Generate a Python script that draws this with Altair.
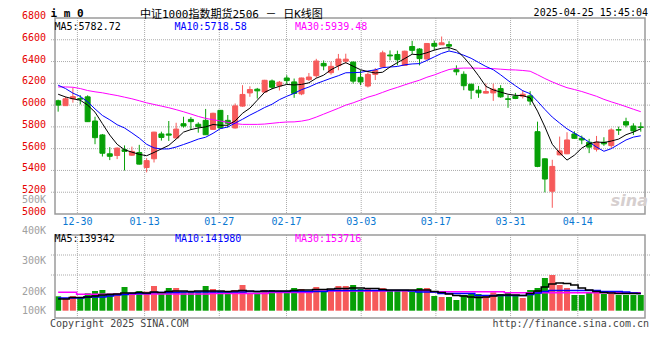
import altair as alt
import pandas as pd

# ---------------- data ----------------
DATES = ["12-25", "12-26", "12-27", "12-30", "12-31",
         "01-02", "01-03", "01-06", "01-07", "01-08", "01-09", "01-10", "01-13", "01-14", "01-15",
         "01-16", "01-17", "01-20", "01-21", "01-22", "01-23", "01-24", "01-27",
         "02-05", "02-06", "02-07", "02-10", "02-11", "02-12", "02-13", "02-14", "02-17", "02-18",
         "02-19", "02-20", "02-21", "02-24", "02-25", "02-26", "02-27", "02-28",
         "03-03", "03-04", "03-05", "03-06", "03-07", "03-10", "03-11", "03-12", "03-13", "03-14",
         "03-17", "03-18", "03-19", "03-20", "03-21", "03-24", "03-25", "03-26", "03-27", "03-28", "03-31",
         "04-01", "04-02", "04-03", "04-07", "04-08", "04-09", "04-10", "04-11", "04-14", "04-15",
         "04-16", "04-17", "04-18", "04-21", "04-22", "04-23", "04-24", "04-25"]

OPEN = [6040, 5995, 6058, 6060, 6076, 5854, 5726, 5553, 5537, 5590,
        5540, 5565, 5427, 5507, 5735, 5735, 5698, 5829, 5869, 5824,
        5860, 5777, 5952, 5860, 5790, 5991, 6112, 6146, 6120, 6222,
        6176, 6249, 6213, 6103, 6234, 6270, 6383, 6298, 6362, 6403,
        6395, 6255, 6175, 6282, 6350, 6460, 6465, 6365, 6538, 6515,
        6423, 6566, 6554, 6556, 6325, 6283, 6192, 6137, 6110, 6112,
        6152, 6058, 6082, 6082, 6085, 5756, 5507, 5209, 5543, 5553,
        5735, 5696, 5659, 5595, 5659, 5628, 5775, 5848, 5808, 5800]
HIGH = [6050, 6078, 6160, 6091, 6090, 5893, 5735, 5614, 5612, 5630,
        5619, 5635, 5513, 5755, 5756, 5854, 5838, 5893, 5890, 5842,
        5965, 5930, 5955, 5909, 6015, 6183, 6173, 6158, 6232, 6235,
        6222, 6274, 6244, 6252, 6295, 6425, 6410, 6400, 6470, 6472,
        6400, 6320, 6300, 6340, 6500, 6502, 6500, 6500, 6590, 6523,
        6570, 6593, 6630, 6587, 6365, 6310, 6195, 6176, 6198, 6198,
        6183, 6091, 6112, 6137, 6128, 5848, 5510, 5498, 5711, 5751,
        5760, 5720, 5690, 5717, 5705, 5787, 5802, 5884, 5833, 5842]
LOW = [5940, 5993, 6022, 6006, 5845, 5641, 5528, 5495, 5504, 5400,
       5535, 5455, 5382, 5473, 5674, 5671, 5695, 5793, 5772, 5747,
       5728, 5772, 5785, 5793, 5785, 5985, 6076, 6060, 6115, 6146,
       6134, 6195, 6067, 6091, 6222, 6250, 6320, 6280, 6320, 6380,
       6198, 6183, 6162, 6230, 6345, 6411, 6365, 6360, 6470, 6365,
       6420, 6502, 6552, 6502, 6274, 6137, 6055, 6067, 6108, 6039,
       6067, 5975, 6055, 6061, 6000, 5430, 5199, 5057, 5540, 5550,
       5690, 5641, 5559, 5574, 5626, 5605, 5726, 5796, 5726, 5756]
CLOSE = [6000, 6058, 6078, 6055, 5848, 5701, 5558, 5530, 5605, 5575,
         5575, 5458, 5490, 5752, 5703, 5724, 5780, 5808, 5848, 5802,
         5728, 5925, 5790, 5833, 5993, 6098, 6143, 6131, 6228, 6164,
         6210, 6225, 6107, 6249, 6258, 6405, 6360, 6356, 6423, 6422,
         6220, 6213, 6282, 6318, 6480, 6452, 6417, 6495, 6503, 6427,
         6566, 6541, 6572, 6541, 6306, 6178, 6137, 6112, 6125, 6146,
         6076, 6052, 6061, 6100, 6037, 5437, 5321, 5437, 5580, 5680,
         5695, 5680, 5614, 5659, 5644, 5772, 5770, 5817, 5763, 5795]

MA5 = [6100, 6075, 6058, 6045, 6000, 5935, 5830, 5725, 5640, 5590,
       5568, 5548, 5535, 5565, 5598, 5630, 5688, 5752, 5775, 5790,
       5800, 5822, 5815, 5815, 5855, 5925, 5972, 6045, 6118, 6150,
       6172, 6190, 6185, 6190, 6205, 6247, 6275, 6325, 6360, 6390,
       6357, 6325, 6308, 6295, 6302, 6350, 6390, 6428, 6467, 6462,
       6481, 6505, 6522, 6528, 6505, 6440, 6360, 6270, 6172, 6140,
       6119, 6100, 6090, 6087, 6066, 5945, 5800, 5640, 5562, 5495,
       5540, 5605, 5645, 5662, 5656, 5670, 5688, 5728, 5752, 5782.72]
MA10 = [6183, 6152, 6110, 6080, 6030, 5965, 5905, 5865, 5820, 5790,
        5745, 5697, 5640, 5607, 5597, 5598, 5615, 5638, 5662, 5688,
        5705, 5741, 5784, 5799, 5835, 5870, 5908, 5942, 5978, 6008,
        6050, 6081, 6108, 6142, 6166, 6197, 6222, 6247, 6270, 6297,
        6298, 6301, 6313, 6324, 6344, 6350, 6355, 6370, 6378, 6381,
        6410, 6443, 6475, 6497, 6482, 6458, 6430, 6392, 6355, 6325,
        6278, 6226, 6178, 6132, 6105, 6035, 5960, 5890, 5835, 5782,
        5742, 5704, 5660, 5615, 5576, 5600, 5640, 5680, 5706, 5718.58]
MA30 = [6167, 6167, 6164, 6152, 6134, 6122, 6113, 6100, 6088, 6073,
        6058, 6040, 6021, 6006, 5991, 5976, 5958, 5939, 5918, 5896,
        5878, 5866, 5854, 5842, 5830, 5823, 5823, 5823, 5826, 5833,
        5840, 5845, 5846, 5853, 5866, 5890, 5917, 5944, 5971, 6000,
        6021, 6046, 6073, 6092, 6117, 6142, 6163, 6186, 6208, 6229,
        6256, 6277, 6303, 6327, 6337, 6340, 6340, 6339, 6336, 6335,
        6330, 6325, 6323, 6318, 6311, 6279, 6244, 6213, 6185, 6160,
        6143, 6125, 6103, 6081, 6053, 6030, 6009, 5986, 5962, 5939.48]

VOLUME = [182600, 176100, 183600, 179300, 192500, 200000, 203300, 192500, 192500, 213100,
          194400, 200000, 197700, 216400, 190200, 209800, 209800, 197700, 200000, 197700,
          216400, 206600, 200000, 195700, 203300, 219700, 194400, 194400, 203300, 203300,
          200000, 200000, 209800, 206600, 200000, 213100, 200000, 206600, 216400, 216400,
          219700, 206600, 206600, 203300, 209800, 200000, 200000, 203300, 197700, 209800,
          209800, 183600, 180300, 180300, 170500, 186900, 190200, 190200, 186900, 195700,
          190200, 194400, 183600, 177000, 203300, 209800, 242600, 252500, 219700, 209800,
          186900, 186900, 194400, 196700, 190200, 190200, 186900, 186900, 186900, 186900]
VMA5 = [173800, 173800, 178700, 178700, 180300, 183600, 186900, 188500, 190200, 193400,
        193400, 195100, 193400, 196700, 195100, 198400, 200000, 200000, 198400, 200000,
        200000, 200000, 200000, 198400, 200000, 201600, 200000, 198400, 200000, 200000,
        200000, 200000, 201600, 203300, 203300, 204900, 204900, 206600, 208200, 208200,
        209800, 209800, 208200, 208200, 204900, 203300, 203300, 203300, 203300, 203300,
        203300, 198400, 195100, 190200, 185200, 183600, 180300, 178700, 180300, 183600,
        186900, 186900, 186900, 185200, 191800, 200000, 213100, 223000, 226200, 224600,
        219700, 209800, 203300, 198400, 195100, 193400, 191800, 191800, 191800, 191800]
VMA10 = [177000, 177000, 177000, 177000, 180300, 180300, 180300, 183600, 186900, 188500,
         191800, 191800, 191800, 195100, 195100, 195100, 195100, 196700, 196700, 196700,
         196700, 196700, 196700, 196700, 196700, 196700, 198400, 198400, 198400, 198400,
         198400, 198400, 198400, 198400, 198400, 198400, 198400, 201600, 201600, 201600,
         201600, 201600, 201600, 201600, 201600, 201600, 201600, 201600, 200000, 196700,
         196700, 196700, 191800, 191800, 191800, 191800, 191800, 185200, 185200, 185200,
         185200, 185200, 185200, 185200, 188500, 193400, 198400, 201600, 201600, 201600,
         201600, 201600, 201600, 201600, 198400, 198400, 198400, 196700, 193400, 191800]
VMA30 = [195700, 195700, 195700, 189200, 189200, 189200, 189200, 189200, 189200, 189200,
         189200, 190200, 190200, 190200, 190200, 190200, 190200, 190200, 190200, 190200,
         190200, 191800, 191800, 191800, 191800, 191800, 191800, 191800, 191800, 195100,
         195100, 195100, 195100, 195100, 195100, 200000, 200000, 200000, 200000, 200000,
         200000, 200000, 200000, 200000, 200000, 201000, 201000, 201000, 201000, 201000,
         201000, 197700, 197700, 197700, 197700, 197700, 197700, 197700, 197700, 197700,
         197700, 194500, 194500, 194500, 194500, 194500, 194500, 194500, 194500, 194500,
         194500, 194500, 194500, 194500, 194500, 194500, 194500, 194500, 194500, 194500]

TICK_LABELS = ["12-30", "01-13", "01-27", "02-17", "03-03", "03-17", "03-31", "04-14"]
PRICE_TICKS = [5000, 5200, 5400, 5600, 5800, 6000, 6200, 6400, 6600, 6800]
VOLUME_TICKS = [200000, 300000, 400000, 500000]
VOLUME_BASE_LABEL = "100K"
VOL_MA_LAST = [139342, 141980, 153716]
SYMBOL = "i m 0"
TITLE = "中证1000指数期货2506 － 日K线图"
STAMP = "2025-04-25 15:45:04"
COPYRIGHT = "Copyright 2025 SINA.COM"
URL = "http://finance.sina.com.cn"

# ---------------- layout / style ----------------
W, H = 600, 300
STEP, FIRST = 7.5, 3.2
MONO = "DejaVu Sans Mono"
RED, GREEN = "#f65a5a", "#07a007"
BORDER, GRID = "#9a9a9a", "#aaaaaa"
P_TOP, P_BOT = 6800, 5000
P_PX = 196.0 / (P_TOP - P_BOT)          # pixels per price unit
Y_MIN = P_TOP - H / P_PX                # value at the bottom of the view
VOL_Y100, VOL_PX = 303.5, 30.5          # pixel of 100K and pixels per 100K in the volume panel
VOL_BASE_PX = 292.7                     # pixel of the volume bars' base line


def px_to_y(px):
    return P_TOP - px / P_PX


def vol_px(v):
    return VOL_Y100 - (v - 100000) / 100000 * VOL_PX


VOL_TOP_Y, VOL_BOT_Y = px_to_y(217), px_to_y(300)


def vol_expr(field):
    return f"{P_TOP} - ({VOL_Y100} - (datum.{field} - 100000) / 100000 * {VOL_PX}) / {P_PX}"


x_scale = alt.Scale(domain=[-FIRST / STEP, (W - FIRST) / STEP], nice=False, zero=False)
y_scale = alt.Scale(domain=[Y_MIN, P_TOP], nice=False, zero=False)

n = len(DATES)
df = pd.DataFrame({
    "i": list(range(n)), "date": DATES, "open": OPEN, "high": HIGH, "low": LOW, "close": CLOSE,
    "ma5": MA5, "ma10": MA10, "ma30": MA30,
    "vol": VOLUME, "vma5": VMA5, "vma10": VMA10, "vma30": VMA30,
})
df["dir"] = ["up" if c >= o else "down" for o, c in zip(OPEN, CLOSE)]

ticks = pd.DataFrame({"label": TICK_LABELS})
ticks["u"] = [(DATES.index(t) * W / (n - 1) - FIRST) / STEP for t in TICK_LABELS]
ticks["pt"], ticks["pb"] = P_TOP, P_BOT
ticks["vt"], ticks["vb"] = VOL_TOP_Y, VOL_BOT_Y

hgrid = pd.DataFrame({"g": PRICE_TICKS[1:-1] + [px_to_y(237), px_to_y(257)]})
frames = pd.DataFrame({"x0": [-FIRST / STEP] * 2, "x1": [(W - FIRST) / STEP] * 2,
                       "yt": [P_TOP, VOL_TOP_Y], "yb": [P_BOT, VOL_BOT_Y]})
price_lbl = pd.DataFrame({"y": PRICE_TICKS, "t": [str(v) for v in PRICE_TICKS]})
vol_lbl = pd.DataFrame({
    "y": [px_to_y(vol_px(v)) for v in VOLUME_TICKS] + [px_to_y(VOL_BASE_PX)],
    "t": [f"{v // 1000}K" for v in VOLUME_TICKS] + [VOLUME_BASE_LABEL],
})

one = pd.DataFrame({"a": [0]})
color_scale = alt.Scale(domain=["up", "down"], range=[RED, GREEN])
X = alt.X("i:Q", scale=x_scale, axis=None)


def Y(field):
    return alt.Y(f"{field}:Q", scale=y_scale, axis=None)


base = alt.Chart(df).transform_calculate(
    vol_y=vol_expr("vol"), vma5_y=vol_expr("vma5"), vma10_y=vol_expr("vma10"),
    vma30_y=vol_expr("vma30"), base_y=f"{px_to_y(VOL_BASE_PX)}")

# ---------------- grids ----------------
hgrid_l = alt.Chart(hgrid).mark_rule(color=GRID, strokeDash=[1, 1]).encode(y=Y("g"))
vgrid_p = alt.Chart(ticks).mark_rule(color=GRID, strokeDash=[1, 1]).encode(
    x=alt.X("u:Q", scale=x_scale, axis=None), y=Y("pt"), y2="pb:Q")
vgrid_v = alt.Chart(ticks).mark_rule(color=GRID, strokeDash=[1, 1]).encode(
    x=alt.X("u:Q", scale=x_scale, axis=None), y=Y("vt"), y2="vb:Q")

# ---------------- candles ----------------
wick = base.mark_rule(strokeWidth=1).encode(
    x=X, y=Y("low"), y2="high:Q",
    color=alt.Color("dir:N", scale=color_scale, legend=None),
)
body = base.mark_bar(size=5, strokeWidth=1).encode(
    x=X, y=Y("open"), y2="close:Q",
    color=alt.Color("dir:N", scale=color_scale, legend=None),
    stroke=alt.Stroke("dir:N", scale=color_scale, legend=None),
)


def line(field, color, sw=1.0, interp="linear"):
    return base.mark_line(color=color, strokeWidth=sw, interpolate=interp).encode(x=X, y=Y(field))


# ---------------- volume ----------------
vbars = base.mark_bar(size=6).encode(
    x=X, y=Y("vol_y"), y2="base_y:Q",
    color=alt.Color("dir:N", scale=color_scale, legend=None),
)

frame_l = alt.Chart(frames).mark_rect(fillOpacity=0, stroke=BORDER, strokeWidth=1.5).encode(
    x=alt.X("x0:Q", scale=x_scale, axis=None), x2="x1:Q", y=Y("yt"), y2="yb:Q")

# ---------------- axis labels ----------------
price_labels = alt.Chart(price_lbl).mark_text(
    align="right", baseline="middle", dy=-2, font=MONO, fontSize=10, color="#e60000").encode(
    x=alt.value(-4), y=Y("y"), text="t:N")
vol_labels = alt.Chart(vol_lbl).mark_text(
    align="right", baseline="middle", dy=0.5, font=MONO, fontSize=10, color="#a0a0a0").encode(
    x=alt.value(-4), y=Y("y"), text="t:N")
date_text = alt.Chart(ticks).mark_text(font=MONO, fontSize=10, color="#0a78d2",
                                       align="center", baseline="alphabetic").encode(
    x=alt.X("u:Q", scale=x_scale, axis=None), y=alt.value(206.5), text="label:N")


def ann(text, x, y, color="#000000", align="left", size=10, font=MONO, weight="normal",
        style="normal"):
    return alt.Chart(one).mark_text(align=align, baseline="alphabetic", font=font, fontSize=size,
                                    fontWeight=weight, fontStyle=style, color=color).encode(
        x=alt.value(x), y=alt.value(y), text=alt.value(text))


texts = [
    ann(SYMBOL, 0.5, -1.3, weight="bold", size=11),
    ann(TITLE, 90, 0.3, size=11, font="DejaVu Sans Mono, Noto Sans CJK SC"),
    ann(STAMP, 598, -2, align="right"),
    ann(f"MA5:{MA5[-1]:.2f}", 4.5, 11.5),
    ann(f"MA10:{MA10[-1]:.2f}", 124.5, 11.5, color="#0000ff"),
    ann(f"MA30:{MA30[-1]:.2f}", 245, 11.5, color="#ff00ff"),
    ann(f"MA5:{VOL_MA_LAST[0]}", 4.5, 224),
    ann(f"MA10:{VOL_MA_LAST[1]}", 125, 224, color="#0000ff"),
    ann(f"MA30:{VOL_MA_LAST[2]}", 245, 224, color="#ff00ff"),
    ann("sina", 598, 188, color="#d6cfcf", align="right", size=16, font="DejaVu Sans",
        weight="bold", style="italic"),
    ann(COPYRIGHT, 0, 308.5, color="#444444"),
    ann(URL, 599, 308.5, color="#444444", align="right"),
]

chart = alt.layer(
    hgrid_l, vgrid_p, vgrid_v, wick, body,
    line("ma30", "#ff00ff"), line("ma10", "#0000ff"), line("ma5", "#000000"),
    vbars,
    line("vma30_y", "#ff00ff", 1.5, "step"), line("vma10_y", "#0000ff", 1.5, "step"),
    line("vma5_y", "#000000", 1.5, "step"),
    frame_l, price_labels, vol_labels, date_text, *texts,
).properties(
    width=W, height=H,
    autosize=alt.AutoSizeParams(type="none"),
    padding={"left": 42, "top": 10, "right": 2, "bottom": 22},
    background="white",
).configure_view(stroke=None)

chart.save("out.html", embed_options={"renderer": "svg", "actions": False})
